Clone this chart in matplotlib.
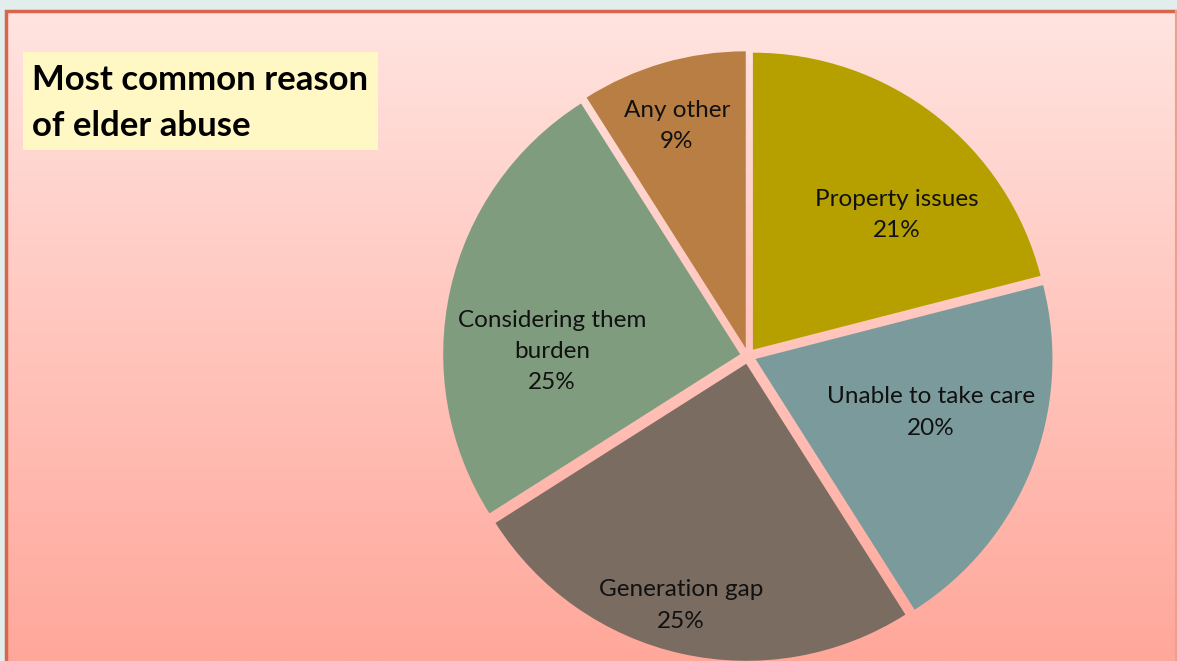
import numpy as np
import matplotlib
matplotlib.use("Agg")
import matplotlib.pyplot as plt
from matplotlib.patches import Rectangle

# ---- data ----
categories = ["Property issues", "Unable to take care", "Generation gap",
              "Considering them\nburden", "Any other"]
values = [21, 20, 25, 25, 9]
colors = ["#b5a000", "#7b9a9b", "#7a6c61", "#7f9d7e", "#b97e43"]
title = "Most common reason\nof elder abuse"

W, H = 1177, 661
fig = plt.figure(figsize=(W / 100, H / 100), dpi=100)
fig.patch.set_facecolor("#e2eeeb")

ax = fig.add_axes([0, 0, 1, 1])
ax.set_xlim(0, W)
ax.set_ylim(0, H)
ax.axis("off")

# gradient background panel
x0, y0 = 6, 0
top_y = H - 11
grad = np.linspace(0, 1, 256)[:, None]
c_top = np.array([255, 228, 224]) / 255
c_bot = np.array([255, 167, 154]) / 255
img = c_top[None, None, :] * (1 - grad[..., None]) + c_bot[None, None, :] * grad[..., None]
img = np.repeat(img, 2, axis=1)
ax.imshow(img, extent=[x0, W, y0, top_y], aspect="auto", zorder=0, origin="upper")
ax.plot([x0, x0, W - 1], [y0, top_y, top_y], color="#d9664c", lw=2.5, zorder=1,
        solid_joinstyle="miter")
ax.plot([W - 1, W - 1], [y0, top_y], color="#e8a090", lw=1.5, zorder=1)

# title box
ax.add_patch(Rectangle((23, H - 150), 355, 98, facecolor="#fff8c4", edgecolor="none", zorder=2))
ax.text(32, H - 103, title, fontsize=25, fontweight="bold", family=["Lato", "DejaVu Sans"],
        va="center", ha="left", linespacing=1.55, color="#000000", zorder=3)

# pie
cx, cy, R = 748, H - 356, 297
gap = 8
explode = [gap] * len(values)
wedges, _ = ax.pie(values, colors=colors, startangle=90, counterclock=False,
                   explode=explode, radius=R, center=(cx, cy), frame=True,
                   wedgeprops=dict(linewidth=0))
ax.set_xlim(0, W)
ax.set_ylim(0, H)
ax.set_aspect("equal")
ax.axis("off")

# label offsets relative to center (in units of radius)
label_pos = [(0.50, 0.475), (0.615, -0.19), (-0.225, -0.84), (-0.66, 0.015), (-0.24, 0.775)]
for cat, v, (dx, dy) in zip(categories, values, label_pos):
    ax.text(cx + dx * R, cy + dy * R, f"{cat}\n{v}%", ha="center", va="center",
            fontsize=17.5, family=["Lato", "DejaVu Sans"], linespacing=1.6,
            color="#111111", zorder=5)

fig.savefig("out.png", dpi=100, facecolor=fig.get_facecolor())
